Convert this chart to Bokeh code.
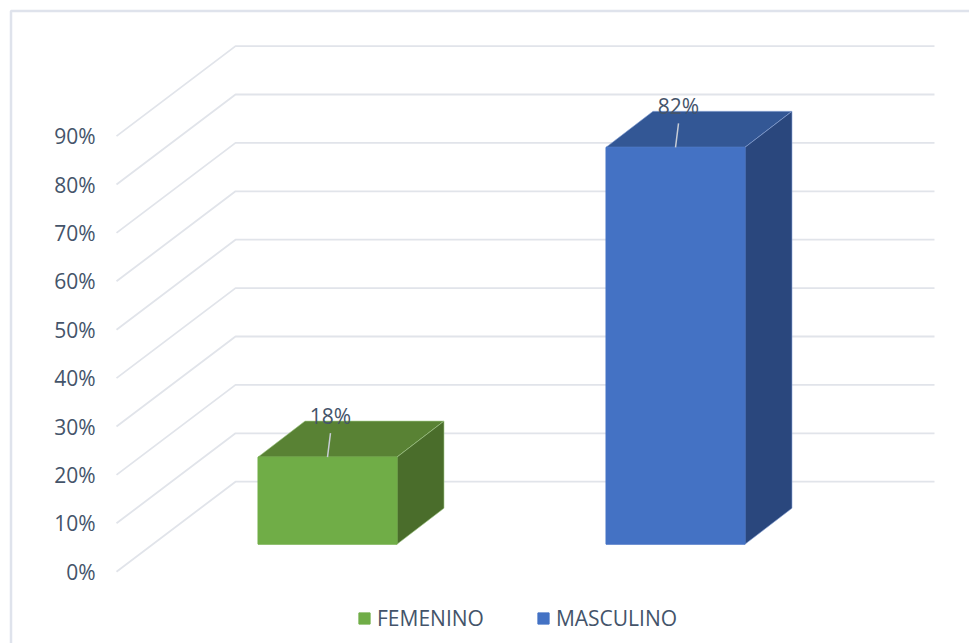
from bokeh.plotting import figure
from bokeh.embed import file_html
from bokeh.resources import INLINE
from bokeh.models import (Range1d, FixedTicker, PrintfTickFormatter, Legend, LegendItem,
                          BoxAnnotation)
from bokeh.core.properties import value

categories = ["FEMENINO", "MASCULINO"]
percentages = [18, 82]
tick_values = [0, 10, 20, 30, 40, 50, 60, 70, 80, 90]

front_colors = ["#70ad47", "#4472c4"]
top_colors = ["#598234", "#335795"]
side_colors = ["#4a6d2b", "#2a477d"]
edge_colors = ["#a5cb8c", "#8ea9db"]
FONT = "Open Sans"
TEXT = "#44546a"

# Oblique "3D" scene constants (x in category units, y in percent)
X_PX = 348.0
Y_PX = 4.84
ZERO_Y = 571.2
WALL_DX = 119 / X_PX
WALL_DY = 90 / Y_PX
FRONT_LEFT = (116 - 327) / X_PX
BACK_RIGHT = (934 - 327) / X_PX
BAR_HALF = 69.5 / X_PX
BAR_DX = 47 / X_PX
BAR_DY = 36 / Y_PX
BASE = 27.5 / Y_PX
LABEL_OFF = 41 / Y_PX
LABEL_DX = 3 / X_PX
LEAD_LEN = 24 / Y_PX

p = figure(width=969, height=643, output_backend="svg", toolbar_location=None,
           x_range=Range1d((8 - 327) / X_PX, (969 - 327) / X_PX),
           y_range=Range1d((ZERO_Y - 643) / Y_PX, (ZERO_Y - 8) / Y_PX),
           x_axis_location=None, min_border_left=8, min_border_right=0,
           min_border_top=8, min_border_bottom=0, outline_line_color=None,
           background_fill_color="white", border_fill_color="white")
p.grid.visible = False

ax = p.yaxis[0]
ax.ticker = FixedTicker(ticks=tick_values)
ax.formatter = PrintfTickFormatter(format="%d%%")
ax.axis_line_color = None
ax.major_tick_line_color = None
ax.minor_tick_line_color = None
ax.major_tick_out = 0
ax.major_tick_in = 0
ax.major_label_standoff = -87
ax.major_label_text_font = FONT
ax.major_label_text_font_size = "21px"
ax.major_label_text_color = TEXT

# Chart border, running off the page at right and bottom
p.add_layout(BoxAnnotation(left=10.5, right=1100, top=10.5, bottom=1100,
                           left_units="canvas", right_units="canvas",
                           top_units="canvas", bottom_units="canvas",
                           fill_color=None, line_color="#dfe3ec", line_alpha=1,
                           line_width=2.5))

# Wall gridlines
xs = [[FRONT_LEFT, FRONT_LEFT + WALL_DX, BACK_RIGHT] for _ in tick_values]
ys = [[t, t + WALL_DY, t + WALL_DY] for t in tick_values]
p.multi_line(xs, ys, line_color="#e1e4ea", line_width=1.8)

# Bars
items = []
for i, (cat, v) in enumerate(zip(categories, percentages)):
    l, r = i - BAR_HALF, i + BAR_HALF
    b, t = BASE, BASE + v
    edge = dict(line_color=edge_colors[i], line_alpha=0.6, line_width=1)
    p.patch([l, r, r + BAR_DX, l + BAR_DX], [t, t, t + BAR_DY, t + BAR_DY],
            fill_color=top_colors[i], **edge)
    p.patch([r, r + BAR_DX, r + BAR_DX, r], [b, b + BAR_DY, t + BAR_DY, t],
            fill_color=side_colors[i], **edge)
    front = p.quad(left=l, right=r, bottom=b, top=t,
                   fill_color=front_colors[i], line_color=front_colors[i], line_width=1)
    p.segment(i, t, i + LABEL_DX, t + LEAD_LEN, line_color="#c8cdd6", line_width=1.5)
    p.text([i + LABEL_DX], [t + LABEL_OFF], text=[f"{v}%"], text_align="center",
           text_baseline="middle", text_font=value(FONT), text_font_size="21px",
           text_color=TEXT)
    items.append(LegendItem(label=cat, renderers=[front]))

legend = Legend(items=items, orientation="horizontal", location=(349, 11),
                glyph_width=14, glyph_height=14, label_standoff=6, spacing=52,
                padding=0, margin=0, border_line_color=None,
                background_fill_alpha=0, label_text_font=FONT,
                label_text_font_size="21px", label_text_color=TEXT)
p.add_layout(legend)

open("out.html", "w").write(file_html(p, INLINE))
